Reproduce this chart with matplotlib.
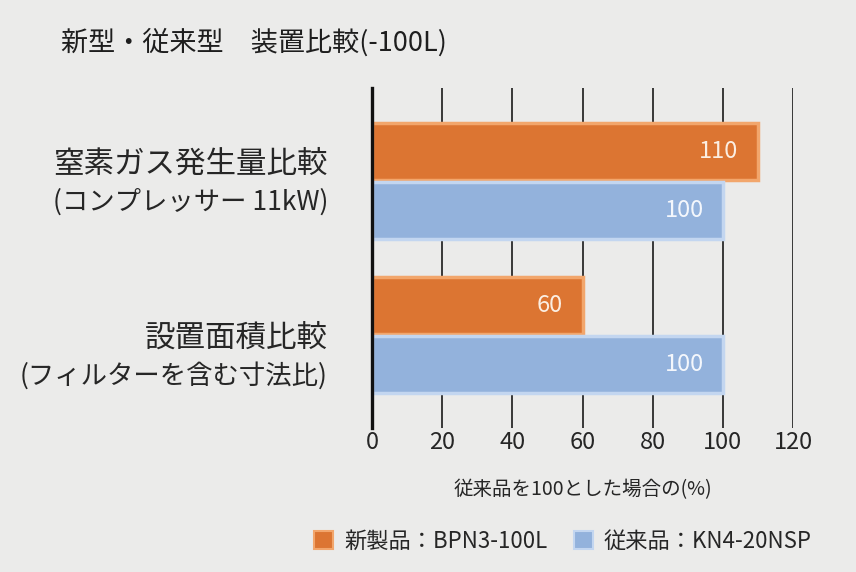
import matplotlib
matplotlib.use("Agg")
import matplotlib.pyplot as plt
from matplotlib.patches import Patch

plt.rcParams['font.family'] = ['Noto Sans CJK JP', 'DejaVu Sans']

title = "新型・従来型　装置比較(-100L)"
categories = ["窒素ガス発生量比較", "設置面積比較"]
subcategories = ["(コンプレッサー 11kW)", "(フィルターを含む寸法比)"]
series_names = ["新製品：BPN3-100L", "従来品：KN4-20NSP"]
new_values = [110, 60]
old_values = [100, 100]
xticks = [0, 20, 40, 60, 80, 100, 120]
xlabel = "従来品を100とした場合の(%)"

bg = '#ebebea'
orange_face, orange_edge = '#dc7532', '#f2a66c'
blue_face, blue_edge = '#93b2dc', '#c3d6f0'
text_color = '#262626'

fig = plt.figure(figsize=(8.56, 5.72), dpi=100, facecolor=bg)
W, H = 856, 572
ax = fig.add_axes([372 / W, 1 - 428 / H, (793 - 372) / W, (428 - 88) / H])
ax.set_facecolor(bg)

pos = list(range(len(categories)))
h = 0.37
off = 0.19
ax.barh([p - off for p in pos], new_values, height=h, color=orange_face,
        edgecolor=orange_edge, linewidth=2.5, zorder=3)
ax.barh([p + off for p in pos], old_values, height=h, color=blue_face,
        edgecolor=blue_edge, linewidth=2.5, zorder=3)

for p, v in zip(pos, new_values):
    ax.text(v - 5.5, p - off, str(v), ha='right', va='center', fontsize=17,
            color='#fbeee2', zorder=4)
for p, v in zip(pos, old_values):
    ax.text(v - 5.5, p + off, str(v), ha='right', va='center', fontsize=17,
            color='#f4f7fc', zorder=4)

ax.set_xlim(0, 120)
ax.set_ylim(1.604, -0.604)
ax.set_xticks(xticks)
ax.set_xticklabels([str(t) for t in xticks], fontsize=17, color=text_color)
ax.set_yticks([])
ax.tick_params(axis='x', length=0, pad=2)

# category labels (two lines each), right-aligned left of the axis
label_dy = [2, 22]
for p, main, sub, dy in zip(pos, categories, subcategories, label_dy):
    ax.annotate(main, xy=(0, p), xycoords=('axes fraction', 'data'),
                xytext=(-44, -dy + 19), textcoords='offset pixels',
                ha='right', va='center', fontsize=22, color=text_color)
    ax.annotate(sub, xy=(0, p), xycoords=('axes fraction', 'data'),
                xytext=(-44, -dy - 19), textcoords='offset pixels',
                ha='right', va='center', fontsize=19, color=text_color)

for t in xticks[1:]:
    ax.axvline(t, color='#2a2a2a', linewidth=1.3, zorder=1)
for s in ['top', 'right', 'bottom']:
    ax.spines[s].set_visible(False)
ax.spines['left'].set_linewidth(2.4)
ax.spines['left'].set_color('#111111')
ax.spines['left'].set_zorder(5)

ax.set_xlabel(xlabel, fontsize=14, color=text_color, labelpad=18)

fig.text(254 / W, 1 - 43 / H, title, ha='center', va='center', fontsize=19.5,
         color='#1e1e1e')

handles = [Patch(facecolor=orange_face, edgecolor=orange_edge, linewidth=1.5),
           Patch(facecolor=blue_face, edgecolor=blue_edge, linewidth=1.5)]
fig.legend(handles, series_names, ncol=2, frameon=False, loc='center',
           bbox_to_anchor=(563 / W, 1 - 541 / H), fontsize=16,
           handlelength=0.85, handleheight=0.85, handletextpad=0.5,
           columnspacing=1.2, labelcolor=text_color)

fig.savefig('out.png', dpi=100, facecolor=bg)
